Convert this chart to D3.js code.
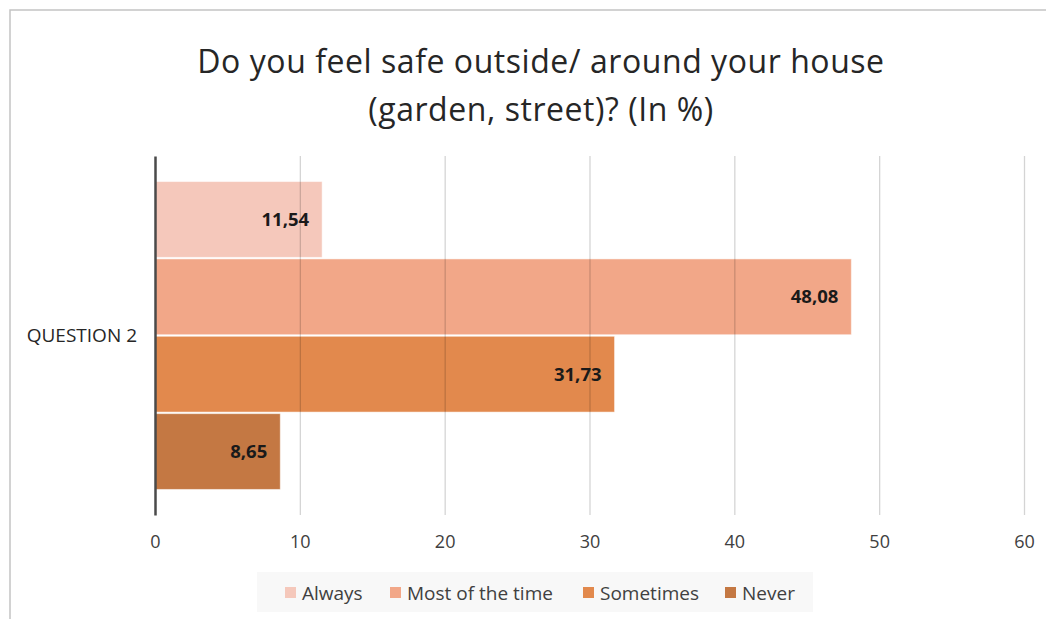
<!DOCTYPE html>
<html>
<head>
<meta charset="utf-8">
<script src="https://cdn.jsdelivr.net/npm/d3@7"></script>
<style>
  body { margin: 0; background: #fff; }
  svg { display: block; font-family: "Open Sans", sans-serif; }
</style>
</head>
<body>
<div id="chart"></div>
<script>
// chart data
var titleLines = ["Do you feel safe outside/ around your house", "(garden, street)? (In %)"];
var categories = ["QUESTION 2"];
var seriesNames = ["Always", "Most of the time", "Sometimes", "Never"];
var seriesValues = [11.54, 48.08, 31.73, 8.65];
var seriesLabels = ["11,54", "48,08", "31,73", "8,65"];
var xTicks = [0, 10, 20, 30, 40, 50, 60];
var colors = ["#f5c8bb", "#f2a788", "#e2894d", "#c47843"];

var svgWidth = 1046, svgHeight = 619;
var margin = { top: 156, right: 22, bottom: 104, left: 155 };
var width = svgWidth - margin.left - margin.right;
var height = svgHeight - margin.top - margin.bottom;

var svg = d3.select("#chart").append("svg")
    .attr("width", svgWidth)
    .attr("height", svgHeight);

// outer frame of the chart (only top and left edges are visible)
svg.append("rect")
    .attr("x", 10).attr("y", 10)
    .attr("width", 1100).attr("height", 700)
    .attr("fill", "none")
    .attr("stroke", "#c4c4c4")
    .attr("stroke-width", 1.5);

// title
svg.append("text")
    .attr("x", 541).attr("y", 73)
    .attr("text-anchor", "middle")
    .attr("font-size", 32)
    .attr("letter-spacing", 0.55)
    .attr("fill", "#262626")
    .selectAll("tspan")
    .data(titleLines)
    .enter()
    .append("tspan")
    .attr("x", 541)
    .attr("dy", (d, i) => i === 0 ? 0 : 48)
    .text(d => d);

var chartGroup = svg.append("g")
    .attr("transform", `translate(${margin.left}, ${margin.top})`);

var x = d3.scaleLinear().domain([0, 60]).range([0, width]);

var y0 = d3.scaleBand()
    .domain(categories)
    .range([0, height])
    .paddingInner(0)
    .paddingOuter(0.083);

var y1 = d3.scaleBand()
    .domain(seriesNames)
    .range([0, y0.bandwidth()])
    .paddingInner(0.02);

var data = seriesNames.map((s, i) => ({ name: s, value: seriesValues[i], label: seriesLabels[i], color: colors[i] }));

// bars
chartGroup.selectAll("rect.bar")
    .data(data)
    .enter()
    .append("rect")
    .attr("class", "bar")
    .attr("x", x(0))
    .attr("y", d => y0(categories[0]) + y1(d.name))
    .attr("width", d => x(d.value) - x(0))
    .attr("height", y1.bandwidth())
    .attr("fill", d => d.color)
    .attr("stroke", "#fff")
    .attr("stroke-opacity", 0.5)
    .attr("stroke-width", 1);

// gridlines drawn over the bars, semi transparent
var xAxis = d3.axisBottom(x).tickValues(xTicks).tickSize(-height).tickFormat(d3.format("d"));
var gx = chartGroup.append("g")
    .attr("transform", `translate(0, ${height})`)
    .call(xAxis);
gx.select(".domain").remove();
gx.selectAll(".tick line")
    .attr("stroke", "#000")
    .attr("stroke-opacity", 0.17)
    .attr("stroke-width", 1.3);
gx.selectAll(".tick").filter(d => d === 0).select("line").remove();
gx.selectAll(".tick text")
    .attr("font-family", "Open Sans, sans-serif")
    .attr("font-size", 18)
    .attr("fill", "#404040")
    .attr("y", 20);

// vertical category axis
var yAxis = d3.axisLeft(y0).tickSize(0).tickPadding(18);
var gy = chartGroup.append("g").call(yAxis);
gy.select(".domain")
    .attr("stroke", "#4a4a4a")
    .attr("stroke-width", 2.5);
gy.selectAll(".tick text")
    .attr("font-family", "Open Sans, sans-serif")
    .attr("font-size", 19)
    .attr("fill", "#262626");

// data labels
chartGroup.selectAll("text.value")
    .data(data)
    .enter()
    .append("text")
    .attr("class", "value")
    .attr("x", d => x(d.value) - 13)
    .attr("y", d => y0(categories[0]) + y1(d.name) + y1.bandwidth() / 2)
    .attr("dy", "0.35em")
    .attr("text-anchor", "end")
    .attr("font-size", 18.5)
    .attr("font-weight", "bold")
    .attr("fill", "#1a1a1a")
    .text(d => d.label);

// legend
var legend = svg.append("g");
legend.append("rect")
    .attr("x", 257).attr("y", 572)
    .attr("width", 556).attr("height", 40)
    .attr("fill", "#f8f8f8");

var legendX = [285, 390, 583, 725];
var items = legend.selectAll("g.item")
    .data(data)
    .enter()
    .append("g")
    .attr("class", "item")
    .attr("transform", (d, i) => `translate(${legendX[i]}, 593)`);
items.append("rect")
    .attr("x", 0).attr("y", -6)
    .attr("width", 11).attr("height", 11)
    .attr("fill", d => d.color);
items.append("text")
    .attr("x", 17)
    .attr("dy", "0.35em")
    .attr("font-size", 19)
    .attr("fill", "#404040")
    .text(d => d.name);
</script>
</body>
</html>
